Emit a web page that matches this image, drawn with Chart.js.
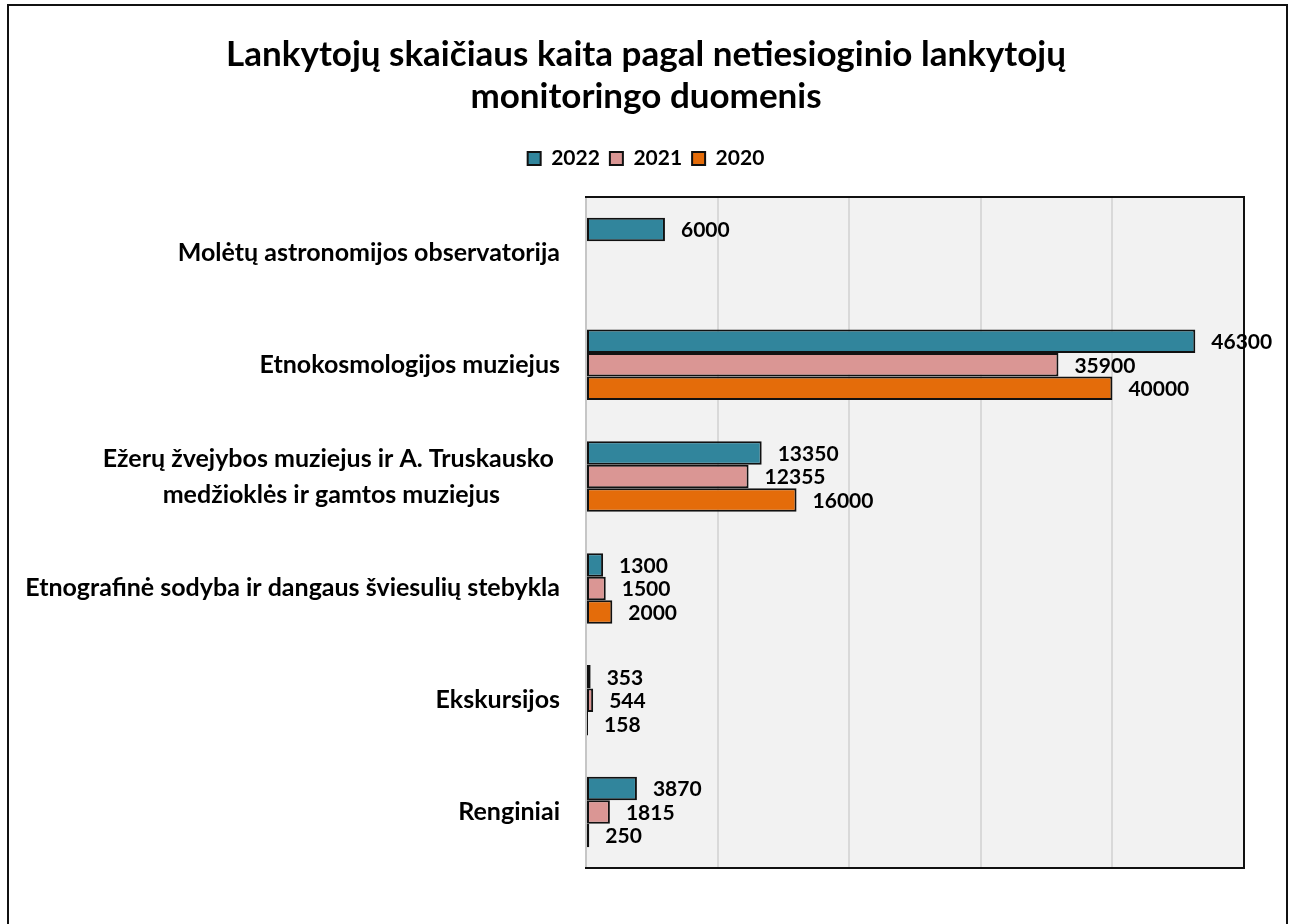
<!DOCTYPE html>
<html>
<head>
<meta charset="utf-8">
<script src="https://cdn.jsdelivr.net/npm/chart.js@4/dist/chart.umd.min.js"></script>
<style>
  html, body { margin: 0; padding: 0; background: #fff; }
  #wrap { position: relative; width: 1290px; height: 924px; }
  #frame {
    position: absolute; left: 7px; top: 4px; width: 1277px; height: 940px;
    border: 2px solid #111; pointer-events: none;
  }
</style>
</head>
<body>
<div id="wrap">
  <canvas id="grafico" width="1290" height="924"></canvas>
  <div id="frame"></div>
</div>
<script>
// dados
const categorias = [
  "Molėtų astronomijos observatorija",
  "Etnokosmologijos muziejus",
  ["Ežerų žvejybos muziejus ir A. Truskausko ", "medžioklės ir gamtos muziejus"],
  "Etnografinė sodyba ir dangaus šviesulių stebykla",
  "Ekskursijos",
  "Renginiai"
];
const anos = ["2022", "2021", "2020"];
const valores2022 = [6000, 46300, 13350, 1300, 353, 3870];
const valores2021 = [null, 35900, 12355, 1500, 544, 1815];
const valores2020 = [null, 40000, 16000, 2000, 158, 250];
const cores = ["#31859c", "#da9694", "#e46c0a"];

const fonte = "Lato, 'Noto Sans', sans-serif";

// fundo cinza + bordas da área do gráfico
const fundoPlugin = {
  id: "fundo",
  beforeDraw(chart) {
    const { ctx, chartArea: a } = chart;
    ctx.save();
    ctx.fillStyle = "#f2f2f2";
    ctx.fillRect(a.left, a.top, a.right - a.left, a.bottom - a.top);
    ctx.restore();
  },
  afterDatasetsDraw(chart) {
    const { ctx, chartArea: a } = chart;
    ctx.save();
    ctx.lineWidth = 2;
    ctx.strokeStyle = "#c6c6c6";
    ctx.beginPath();
    ctx.moveTo(a.left, a.top);
    ctx.lineTo(a.left, a.bottom);
    ctx.stroke();
    ctx.strokeStyle = "#111";
    ctx.beginPath();
    ctx.moveTo(a.left - 1, a.top);
    ctx.lineTo(a.right, a.top);
    ctx.lineTo(a.right, a.bottom);
    ctx.lineTo(a.left - 1, a.bottom);
    ctx.stroke();
    ctx.restore();
  }
};

// rótulos das categorias (linhas centradas entre si, bloco alinhado à direita)
const rotulosPlugin = {
  id: "rotulos",
  afterDraw(chart) {
    const { ctx } = chart;
    const y = chart.scales.y;
    const xDireita = chart.chartArea.left - 26;
    ctx.save();
    ctx.font = "bold 25px " + fonte;
    ctx.fillStyle = "#000";
    ctx.textBaseline = "middle";
    ctx.textAlign = "center";
    categorias.forEach((cat, i) => {
      const linhas = Array.isArray(cat) ? cat : [cat];
      const larg = Math.max(...linhas.map(l => ctx.measureText(l).width));
      const centro = xDireita - larg / 2;
      const yc = y.getPixelForTick(i);
      const alt = 36;
      linhas.forEach((l, j) => {
        ctx.fillText(l, centro, yc + (j - (linhas.length - 1) / 2) * alt);
      });
    });
    ctx.restore();
  }
};

// valores ao lado das barras
const valoresPlugin = {
  id: "valores",
  afterDatasetsDraw(chart) {
    const { ctx } = chart;
    ctx.save();
    ctx.font = "bold 21px " + fonte;
    ctx.fillStyle = "#000";
    ctx.textAlign = "left";
    ctx.textBaseline = "middle";
    chart.data.datasets.forEach((ds, i) => {
      const meta = chart.getDatasetMeta(i);
      meta.data.forEach((bar, j) => {
        const v = ds.data[j];
        if (v === null || v === undefined) return;
        ctx.fillText(String(v), bar.x + 16, bar.y + 1);
      });
    });
    ctx.restore();
  }
};

// espaço extra abaixo da legenda
const legendaPlugin = {
  id: "legendaEspaco",
  beforeInit(chart) {
    const fitOriginal = chart.legend.fit;
    chart.legend.fit = function () {
      fitOriginal.bind(chart.legend)();
      this.height += 18;
    };
  }
};

const ctx = document.getElementById("grafico").getContext("2d");
new Chart(ctx, {
  type: "bar",
  data: {
    labels: categorias,
    datasets: [
      { label: anos[0], data: valores2022, backgroundColor: cores[0] },
      { label: anos[1], data: valores2021, backgroundColor: cores[1] },
      { label: anos[2], data: valores2020, backgroundColor: cores[2] }
    ]
  },
  options: {
    indexAxis: "y",
    responsive: false,
    animation: false,
    devicePixelRatio: 1,
    layout: { padding: { left: 48, right: 46, bottom: 56, top: 0 } },
    datasets: {
      bar: {
        borderColor: "#111",
        borderWidth: 2,
        borderSkipped: false,
        categoryPercentage: 0.63,
        barPercentage: 1
      }
    },
    scales: {
      x: {
        min: 0,
        max: 50000,
        ticks: { display: false, stepSize: 10000 },
        grid: { color: "#d9d9d9", lineWidth: 2, drawTicks: false },
        border: { display: false }
      },
      y: {
        display: true,
        ticks: { display: false },
        grid: { display: false },
        border: { display: false },
        afterFit(s) { s.width = 538; }
      }
    },
    plugins: {
      title: {
        display: true,
        text: ["Lankytojų skaičiaus kaita pagal netiesioginio lankytojų", "monitoringo duomenis"],
        color: "#000",
        font: { family: fonte, size: 35, weight: "bold", lineHeight: 1.2 },
        padding: { top: 34, bottom: 20 }
      },
      legend: {
        display: true,
        position: "top",
        labels: {
          color: "#000",
          font: { family: fonte, size: 21, weight: "bold" },
          boxWidth: 13,
          boxHeight: 13,
          padding: 10
        }
      },
      tooltip: { enabled: false }
    }
  },
  plugins: [fundoPlugin, rotulosPlugin, valoresPlugin, legendaPlugin]
});
</script>
</body>
</html>
